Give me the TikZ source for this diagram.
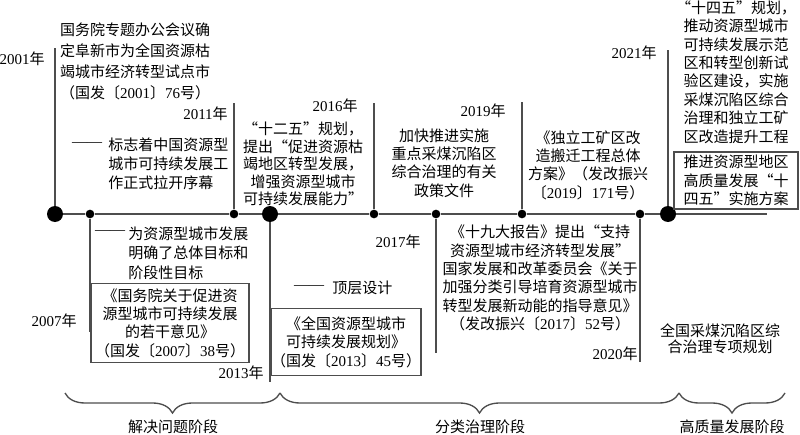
\documentclass[tikz,border=0pt]{standalone}
\usepackage{fontspec}
\setmainfont{Noto Sans CJK SC}
\newfontfamily\numfont{Liberation Serif}
\newcommand{\nm}[1]{{\numfont #1}}
\usetikzlibrary{decorations.pathreplacing}
\definecolor{linegray}{HTML}{4D4D4D}

\begin{document}
\begin{tikzpicture}[x=0.75pt, y=-0.75pt,
    every node/.style={inner sep=0pt, font=\fontsize{11.25pt}{13.8pt}\selectfont},
    bigdot/.style={circle, fill=black, minimum size=12pt},
    smalldot/.style={circle, fill=black, minimum size=6.5pt},
    axisline/.style={draw=linegray, line width=1.5pt},
    stem/.style={draw=linegray, line width=1.1pt},
    yearlabel/.style={anchor=east},
    doc/.style={align=center},
    note/.style={align=left, anchor=west},
    notedash/.style={font=\fontsize{11.25pt}{13.8pt}\numfont},
    docbox/.style={draw=linegray, line width=0.9pt, align=center},
    stagebrace/.style={draw=linegray, line width=1pt, decorate,
      decoration={brace, mirror, amplitude=15pt}}]
  \useasboundingbox (0,0) rectangle (800,435);

  % Pontos da linha do tempo
  \node[bigdot]   (d2001) at (55,214)  {};
  \node[smalldot] (d2007) at (90,214)  {};
  \node[smalldot] (d2011) at (234,214) {};
  \node[bigdot]   (d2013) at (270,214) {};
  \node[smalldot] (d2016) at (374,214) {};
  \node[smalldot] (d2017) at (436,214) {};
  \node[smalldot] (d2019) at (522,214) {};
  \node[smalldot] (d2020) at (640,214) {};
  \node[bigdot]   (d2021) at (668,214) {};
  \coordinate (axisend) at (767,214);

  % Eixo
  \draw[axisline] (d2001) -- (d2007) -- (d2011) -- (d2013) -- (d2016)
    -- (d2017) -- (d2019) -- (d2020) -- (d2021) -- (axisend);

  % Hastes
  \coordinate (s2001) at (55,48);
  \coordinate (s2007) at (90,332);
  \coordinate (s2011) at (234,103);
  \coordinate (s2013) at (270,382);
  \coordinate (s2016) at (374,103);
  \coordinate (s2017) at (436,353);
  \coordinate (s2019) at (522,102);
  \coordinate (s2020) at (640,362);
  \coordinate (s2021) at (668,50);
  \draw[stem] (d2001) -- (s2001);
  \draw[stem] (d2007) -- (s2007);
  \draw[stem] (d2011) -- (s2011);
  \draw[stem] (d2013) -- (s2013);
  \draw[stem] (d2016) -- (s2016);
  \draw[stem] (d2017) -- (s2017);
  \draw[stem] (d2019) -- (s2019);
  \draw[stem] (d2020) -- (s2020);
  \draw[stem] (d2021) -- (s2021);

  % Anos
  \node[yearlabel] (y2001) at (45,59)   {\nm{2001}年};
  \node[yearlabel] (y2007) at (77,321)  {\nm{2007}年};
  \node[yearlabel] (y2011) at (228,114) {\nm{2011}年};
  \node[yearlabel] (y2013) at (264,373) {\nm{2013}年};
  \node[yearlabel] (y2016) at (358,106) {\nm{2016}年};
  \node[yearlabel] (y2017) at (421,242) {\nm{2017}年};
  \node[yearlabel] (y2019) at (506,111) {\nm{2019}年};
  \node[yearlabel] (y2020) at (638,354) {\nm{2020}年};
  \node[yearlabel] (y2021) at (657,53)  {\nm{2021}年};

  % 2001
  \node[doc, font=\fontsize{11.25pt}{15.75pt}\selectfont] (t2001) at (135,61)
    {国务院专题办公会议确\\定阜新市为全国资源枯\\竭城市经济转型试点市\\（国发〔\nm{2001}〕\nm{76}号）};

  % 2007
  \node[notedash] (dash2007) at (110,233) {——};
  \node[note, font=\fontsize{11.25pt}{14.6pt}\selectfont] (t2007) at (128,253)
    {为资源型城市发展\\明确了总体目标和\\阶段性目标};
  \node[docbox, minimum width=118.5pt, minimum height=59.25pt] (b2007) at (170,323)
    {《国务院关于促进资\\源型城市可持续发展\\的若干意见》\\（国发〔\nm{2007}〕\nm{38}号）};

  % 2011
  \node[notedash] (dash2011) at (87,145) {——};
  \node[note, font=\fontsize{11.25pt}{14.3pt}\selectfont] (t2011) at (108,164)
    {标志着中国资源型\\城市可持续发展工\\作正式拉开序幕};

  % 2013
  \node[notedash] (dash2013) at (309,288) {——};
  \node[note] (t2013) at (332,288) {顶层设计};
  \node[docbox, minimum width=108pt, minimum height=50.25pt] (b2013) at (346,342)
    {《全国资源型城市\\可持续发展规划》\\（国发〔\nm{2013}〕\nm{45}号）};

  % 2016
  \node[doc, font=\fontsize{11.25pt}{13.1pt}\selectfont] (t2016) at (303,164)
    {“十二五”规划，\\提出“促进资源枯\\竭地区转型发展，\\增强资源型城市\\可持续发展能力”};

  % 2017
  \node[doc] (t2017) at (540,278)
    {《十九大报告》提出“支持\\资源型城市经济转型发展”\\国家发展和改革委员会《关于\\加强分类引导培育资源型城市\\转型发展新动能的指导意见》\\（发改振兴〔\nm{2017}〕\nm{52}号）};

  % 2019
  \node[doc] (t2019a) at (444,163)
    {加快推进实施\\重点采煤沉陷区\\综合治理的有关\\政策文件};
  \node[doc] (t2019b) at (588,165)
    {《独立工矿区改\\造搬迁工程总体\\方案》（发改振兴\\〔\nm{2019}〕\nm{171}号）};

  % 2020
  \node[doc, font=\fontsize{11.25pt}{12pt}\selectfont] (t2020) at (720,339)
    {全国采煤沉陷区综\\合治理专项规划};

  % 2021
  \node[doc] (t2021) at (736,72)
    {“十四五”规划，\\推动资源型城市\\可持续发展示范\\区和转型创新试\\验区建设，实施\\采煤沉陷区综合\\治理和独立工矿\\区改造提升工程};
  \node[docbox, minimum width=93pt, minimum height=42.75pt] (b2021) at (736,180.5)
    {推进资源型地区\\高质量发展“十\\四五”实施方案};

  % Fases
  \coordinate (p0) at (65,393);
  \coordinate (p1) at (280,393);
  \coordinate (p2) at (679,393);
  \coordinate (p3) at (785,393);
  \draw[stagebrace] (p0) -- (p1);
  \draw[stagebrace] (p1) -- (p2);
  \draw[stagebrace] (p2) -- (p3);
  \node (f1) at (173,427) {解决问题阶段};
  \node (f2) at (480,427) {分类治理阶段};
  \node (f3) at (732,427) {高质量发展阶段};
\end{tikzpicture}
\end{document}
